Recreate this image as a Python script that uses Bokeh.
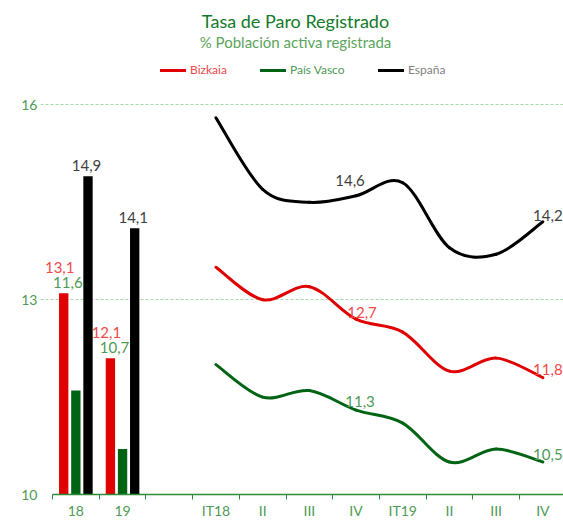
from bokeh.plotting import figure
from bokeh.models import Range1d, FixedTicker, Label, LabelSet, Legend, LegendItem, ColumnDataSource
from bokeh.embed import file_html
from bokeh.resources import INLINE
from bokeh.core.properties import value

# ---------------- data ----------------
title_text = "Tasa de Paro Registrado"
subtitle_text = "% Población activa registrada"
series_names = ["Bizkaia", "País Vasco", "España"]

year_labels = ["18", "19"]
bizkaia_year = [13.1, 12.1]
pv_year = [11.6, 10.7]
espana_year = [14.9, 14.1]

quarter_labels = ["IT18", "II", "III", "IV", "IT19", "II", "III", "IV"]
bizkaia_q = [13.5, 13.0, 13.2, 12.7, 12.5, 11.9, 12.1, 11.8]
pv_q = [12.0, 11.5, 11.6, 11.3, 11.1, 10.5, 10.7, 10.5]
espana_q = [15.8, 14.7, 14.5, 14.6, 14.8, 13.8, 13.7, 14.2]

labelled_quarters = [3, 7]   # IV-18 and IV-19 carry value labels
y_ticks = [10, 13, 16]

# ---------------- layout / style ----------------
all_labels = year_labels + [""] + quarter_labels
year_x = list(range(len(year_labels)))
q_x = [len(year_labels) + 1 + i for i in range(len(quarter_labels))]
axis_bounds = (-0.5, 10.442)

RED, GREEN, BLACK = "#E00000", "#006414", "#000000"
RED_TXT, GREEN_TXT, GREY_TXT = "#F04848", "#4E9A56", "#404040"
AXIS_GREEN = "#2E8B3A"
FONT = "Lato"

def fmt(v):
    return f"{v:.1f}".replace(".", ",")

p = figure(width=563, height=521, output_backend="svg", toolbar_location=None,
           title=None, x_range=Range1d(-0.757, 10.442),
           y_range=Range1d(10, 17.607),
           min_border_left=40, min_border_right=0, min_border_top=0, min_border_bottom=24)
p.outline_line_color = None
p.background_fill_color = "white"
p.border_fill_color = "white"

# x axis: labels at category centres, tick marks at boundaries
xa = p.xaxis[0]
xa.bounds = axis_bounds
xa.ticker = FixedTicker(ticks=list(range(len(all_labels))),
                        minor_ticks=[i - 0.5 for i in range(len(all_labels) + 1)])
xa.major_label_overrides = {i: lab for i, lab in enumerate(all_labels)}
xa.axis_line_color = AXIS_GREEN
xa.axis_line_width = 1.5
xa.major_tick_line_color = None
xa.major_tick_in = 0
xa.major_tick_out = 5
xa.minor_tick_line_color = AXIS_GREEN
xa.minor_tick_in = 0
xa.minor_tick_out = 5
xa.major_label_standoff = 2
xa.major_label_text_font = FONT
xa.major_label_text_font_size = "14px"
xa.major_label_text_color = GREEN_TXT

ya = p.yaxis[0]
ya.ticker = FixedTicker(ticks=y_ticks)
ya.axis_line_color = None
ya.major_tick_line_color = None
ya.minor_tick_line_color = None
ya.major_tick_in = 0
ya.major_tick_out = 0
ya.major_label_standoff = 3
ya.major_label_text_font = FONT
ya.major_label_text_font_size = "14px"
ya.major_label_text_color = GREEN_TXT

p.xgrid.visible = False
p.ygrid.ticker = FixedTicker(ticks=y_ticks[1:])
p.ygrid.bounds = axis_bounds
p.ygrid.grid_line_color = "#A5D6A7"
p.ygrid.grid_line_dash = "3 2"
p.ygrid.grid_line_width = 1

# ---------------- bars ----------------
bar_w = 0.2
offs = [-0.26, 0.0, 0.26]
for vals, off, col in zip([bizkaia_year, pv_year, espana_year], offs, [RED, GREEN, BLACK]):
    p.vbar(x=[x + off for x in year_x], top=vals, bottom=y_ticks[0], width=bar_w,
           fill_color=col, line_color=None)

def add_text(xs, ys, texts, color, x_off, y_off):
    src = ColumnDataSource(dict(x=xs, y=ys, t=texts))
    p.add_layout(LabelSet(x="x", y="y", text="t", source=src, x_offset=x_off, y_offset=y_off,
                          text_align="center", text_baseline="alphabetic",
                          text_font=value(FONT), text_font_size=value("15px"),
                          text_color=color))

add_text([x + offs[2] for x in year_x], espana_year, [fmt(v) for v in espana_year], GREY_TXT, -1.5, 5)
add_text([x + offs[0] for x in year_x], bizkaia_year, [fmt(v) for v in bizkaia_year], RED_TXT, -4, 20)
add_text([x + offs[1] for x in year_x], bizkaia_year, [fmt(v) for v in pv_year], GREEN_TXT, -8, 5)

# ---------------- smoothed lines ----------------
def bezier_segments(xs, ys):
    n = len(xs)
    d = {k: [] for k in ["x0", "y0", "x1", "y1", "cx0", "cy0", "cx1", "cy1"]}
    for i in range(n - 1):
        xm, ym = (xs[i - 1], ys[i - 1]) if i > 0 else (xs[i], ys[i])
        xp, yp = (xs[i + 2], ys[i + 2]) if i + 2 < n else (xs[i + 1], ys[i + 1])
        d["x0"].append(xs[i]); d["y0"].append(ys[i])
        d["x1"].append(xs[i + 1]); d["y1"].append(ys[i + 1])
        d["cx0"].append(xs[i] + (xs[i + 1] - xm) / 6)
        d["cy0"].append(ys[i] + (ys[i + 1] - ym) / 6)
        d["cx1"].append(xs[i + 1] - (xp - xs[i]) / 6)
        d["cy1"].append(ys[i + 1] - (yp - ys[i]) / 6)
    return d

line_renderers = []
for vals, col in zip([bizkaia_q, pv_q, espana_q], [RED, GREEN, BLACK]):
    r = p.bezier(line_color=col, line_width=3, line_cap="round", **bezier_segments(q_x, vals))
    line_renderers.append(r)

# value labels on lines
lab_specs = [(bizkaia_q, RED_TXT, [6, 5], [1, 3]),
             (pv_q, GREEN_TXT, [4, 5], [3, 2]),
             (espana_q, GREY_TXT, [-6, 5], [10, 1])]
for vals, col, xo, yo in lab_specs:
    for k, idx in enumerate(labelled_quarters):
        add_text([q_x[idx]], [vals[idx]], [fmt(vals[idx])], col, xo[k], yo[k])

# ---------------- titles ----------------
p.add_layout(Label(x=255, y=474, x_units="screen", y_units="screen", text=title_text,
                   text_align="center", text_baseline="middle", text_font=FONT,
                   text_font_size="18px", text_color="#127A2A"))
p.add_layout(Label(x=255, y=453, x_units="screen", y_units="screen", text=subtitle_text,
                   text_align="center", text_baseline="middle", text_font=FONT,
                   text_font_size="15px", text_color="#5BA45B"))

# ---------------- legend (one per series for individual text colours) ----------------
leg_x = [120, 220, 338]
for name, r, tcol, lx in zip(series_names, line_renderers, [RED_TXT, GREEN_TXT, "#7F7F7F"], leg_x):
    lg = Legend(items=[LegendItem(label=name, renderers=[r])], location=(lx, 417),
                orientation="horizontal", glyph_width=26, glyph_height=12, label_height=12,
                label_standoff=4, padding=0, margin=0, border_line_color=None,
                background_fill_alpha=0, label_text_font=FONT, label_text_font_size="12px",
                label_text_color=tcol)
    p.add_layout(lg)

open("out.html", "w").write(file_html(p, INLINE))
